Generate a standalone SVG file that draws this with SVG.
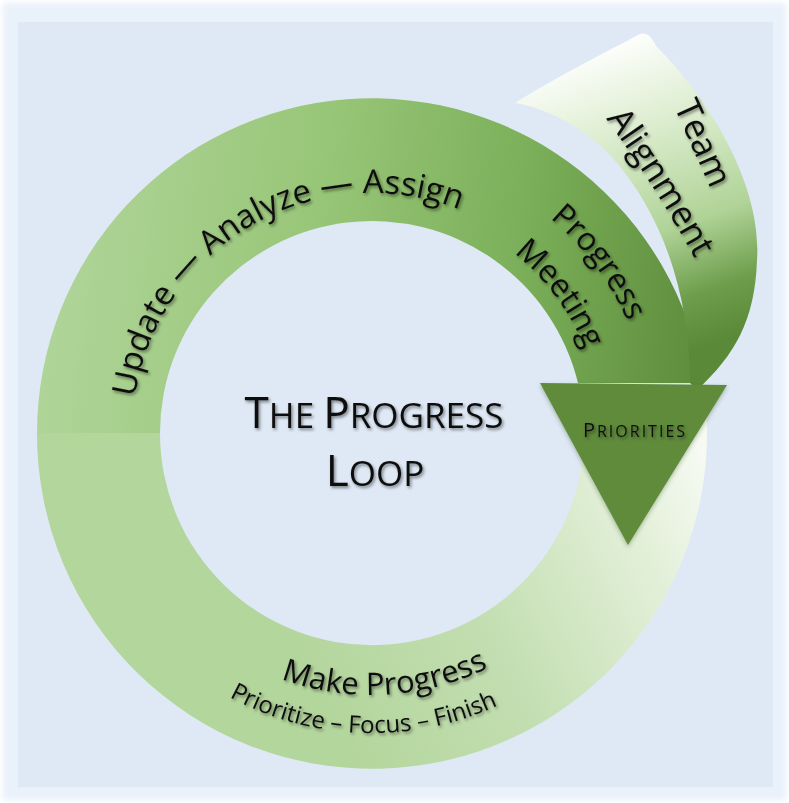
<svg xmlns="http://www.w3.org/2000/svg" width="789" height="803" viewBox="0 0 789 803">
<defs>
<style>
.t{font-family:"Open Sans","Liberation Sans",sans-serif;fill:#111;filter:url(#ts)}
</style>
<filter id="ts" x="-15%" y="-15%" width="130%" height="140%">
<feDropShadow dx="1.5" dy="2" stdDeviation="1.6" flood-color="#000" flood-opacity="0.45"/>
</filter>
<filter id="soft" x="-5%" y="-5%" width="110%" height="110%">
<feGaussianBlur stdDeviation="3"/>
</filter>
<filter id="tri" x="-20%" y="-20%" width="140%" height="140%">
<feDropShadow dx="0" dy="2" stdDeviation="2" flood-color="#2d4a1c" flood-opacity="0.35"/>
</filter>
<linearGradient id="gUp" gradientUnits="userSpaceOnUse" x1="37" y1="300" x2="700" y2="380">
<stop offset="0" stop-color="#b1d59a"/>
<stop offset="0.4" stop-color="#98c678"/>
<stop offset="0.7" stop-color="#7cb05a"/>
<stop offset="1" stop-color="#5e8d3c"/>
</linearGradient>
<linearGradient id="gLow" gradientUnits="userSpaceOnUse" x1="300" y1="660" x2="705" y2="460">
<stop offset="0" stop-color="#b3d69c"/>
<stop offset="0.4" stop-color="#c3deb1"/>
<stop offset="0.8" stop-color="#e3f0d9"/>
<stop offset="1" stop-color="#f6faf2"/>
</linearGradient>
<linearGradient id="gTeam" gradientUnits="userSpaceOnUse" x1="600" y1="50" x2="715" y2="380">
<stop offset="0" stop-color="#fdfefb"/>
<stop offset="0.25" stop-color="#dcedcf"/>
<stop offset="0.55" stop-color="#b0d397"/>
<stop offset="0.75" stop-color="#6e9e4c"/>
<stop offset="0.9" stop-color="#5a8a38"/>
</linearGradient>
<path id="pTop" d="M 140.2 495.1 A 240 240 0 0 1 541.7 263.3"/>
<path id="pProg" d="M 338 156.1 A 279 279 0 0 1 628.8 542"/>
<path id="pMeet" d="M 345.7 205.5 A 229 229 0 0 1 582.1 523.9"/>
<path id="pMake" d="M 152.3 575.7 A 262 262 0 0 0 605.4 551.9"/>
<path id="pPrio" d="M 107.6 574.8 A 300 300 0 0 0 627 591.1"/>
<path id="pTeam" d="M 662 80 Q 698 160 722 215"/>
<path id="pAlign" d="M 585 90 Q 655 182 712 290"/>
</defs>

<g id="background">
<rect x="0" y="0" width="789" height="803" fill="#ffffff"/>
<rect x="3" y="3" width="783" height="797" fill="#e9f1fa" filter="url(#soft)"/>
<rect x="18" y="22" width="755" height="765" fill="#dee9f5"/>
</g>

<g id="connectors">
<path id="loop-lower" d="M 706.5 415.5 A 335 335 0 1 1 37 433 L 160 433 A 212 212 0 1 0 583.7 421.9 Z" fill="url(#gLow)"/>
<path id="loop-upper" d="M 37 433 A 335 335 0 0 1 703.2 383 L 578 383 A 212 212 0 0 0 160 433 Z" fill="url(#gUp)"/>
<path id="team-arrow" d="M 515 103 C 560 75 610 50 640 34 C 648 32 652 38 656 46 C 715 105 762 190 757 260 C 755 320 735 355 697 390 L 690 383 C 690 300 665 215 610 155 C 580 125 545 108 515 103 Z" fill="url(#gTeam)"/>
</g>

<g id="priorities">
<polygon points="540,383 727,385 628,545" fill="#5e8b3b" filter="url(#tri)"/>
<text class="t" x="635" y="437" text-anchor="middle" letter-spacing="2"><tspan font-size="20">P</tspan><tspan font-size="16">RIORITIES</tspan></text>
</g>

<g id="title">
<text class="t" x="374" y="428" text-anchor="middle"><tspan font-size="44">T</tspan><tspan font-size="35">HE </tspan><tspan font-size="44">P</tspan><tspan font-size="35">ROGRESS</tspan></text>
<text class="t" x="375" y="486" text-anchor="middle"><tspan font-size="44">L</tspan><tspan font-size="35">OOP</tspan></text>
</g>

<g id="progress-meeting">
<text class="t" font-size="33"><textPath href="#pTop" startOffset="50%" text-anchor="middle">Update — Analyze — Assign</textPath></text>
<text class="t" font-size="32"><textPath href="#pProg" startOffset="50%" text-anchor="middle">Progress</textPath></text>
<text class="t" font-size="32"><textPath href="#pMeet" startOffset="50%" text-anchor="middle">Meeting</textPath></text>
</g>

<g id="make-progress">
<text class="t" font-size="31"><textPath href="#pMake" startOffset="50%" text-anchor="middle">Make Progress</textPath></text>
<text class="t" font-size="24"><textPath href="#pPrio" startOffset="50%" text-anchor="middle">Prioritize – Focus – Finish</textPath></text>
</g>

<g id="team-alignment">
<text class="t" font-size="35"><textPath href="#pTeam" startOffset="50%" text-anchor="middle">Team</textPath></text>
<text class="t" font-size="35"><textPath href="#pAlign" startOffset="50%" text-anchor="middle">Alignment</textPath></text>
</g>
</svg>
